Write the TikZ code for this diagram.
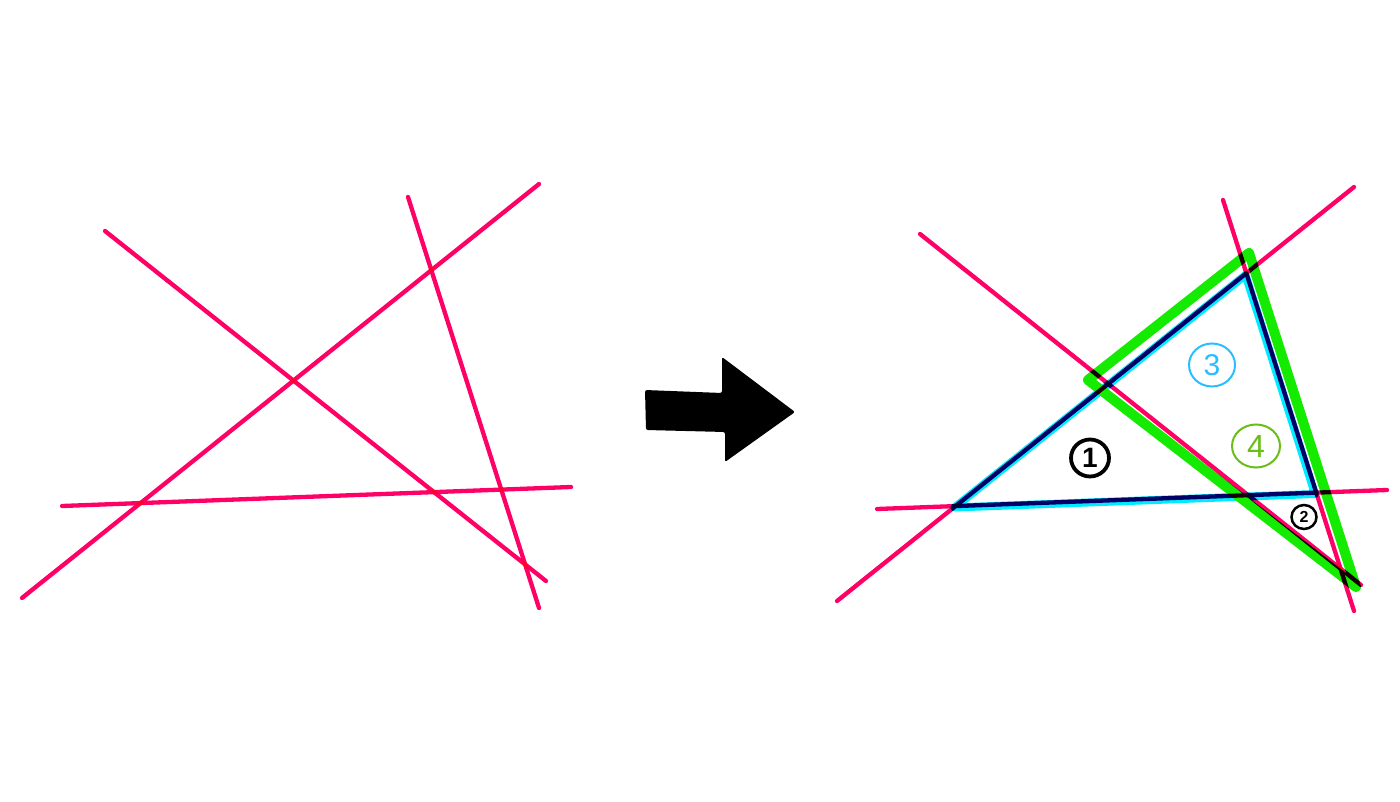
\documentclass[tikz,border=0pt]{standalone}
\usepackage{fontspec}
\setmainfont{Liberation Sans}
\usetikzlibrary{shapes.geometric}
\definecolor{pk}{RGB}{255,0,102}
\definecolor{cy}{RGB}{0,235,255}
\definecolor{gr}{RGB}{20,235,0}
\definecolor{cylab}{RGB}{40,190,255}
\definecolor{grlab}{RGB}{105,190,25}
\begin{document}
\begin{tikzpicture}[x=1pt,y=-1pt,
  pinkline/.style={draw=pk,line width=4.3pt,line cap=round,blend mode=multiply},
  cyantri/.style={draw=cy,line width=8pt,line join=round,line cap=round},
  greentri/.style={draw=gr,line width=10pt,line join=round,line cap=round},
  lab/.style={ellipse,inner sep=0pt,align=center}]
\useasboundingbox[fill=white] (0,0) rectangle (1400,802);
% left lines
\coordinate (a1) at (105,231); \coordinate (a2) at (546,581);
\coordinate (b1) at (22,598);  \coordinate (b2) at (539,184);
\coordinate (c1) at (408,197); \coordinate (c2) at (539,608);
\coordinate (d1) at (62,506);  \coordinate (d2) at (571,487);
\draw[pinkline] (a1) -- (a2);
\draw[pinkline] (b1) -- (b2);
\draw[pinkline] (c1) -- (c2);
\draw[pinkline] (d1) -- (d2);
% arrow
\fill[black,rounded corners=2pt] (645,390) -- (722,393) -- (722,357) -- (795,412) -- (725,462) -- (725,432) -- (646,430) -- cycle;
% right lines endpoints
\coordinate (p1) at (920,234);  \coordinate (p2) at (1361,585);
\coordinate (q1) at (837,601);  \coordinate (q2) at (1354,187);
\coordinate (r1) at (1223,200); \coordinate (r2) at (1354,611);
\coordinate (s1) at (877,509);  \coordinate (s2) at (1387,490);
% cyan triangle (lines 2,3,4), slightly shifted
\coordinate (t1) at (954.5,507.5);
\coordinate (t2) at (1245.5,275);
\coordinate (t3) at (1315,494);
\draw[cyantri] (t1) -- (t2) -- (t3) -- cycle;
% green triangle (lines 1,2,3), offset outward
\coordinate (g1) at (1088,380);
\coordinate (g2) at (1249,253);
\coordinate (g3) at (1356,587);
\draw[greentri] (g1) -- (g2) -- (g3) -- cycle;
% right pink lines
\draw[pinkline] (p1) -- (p2);
\draw[pinkline] (q1) -- (q2);
\draw[pinkline] (r1) -- (r2);
\draw[pinkline] (s1) -- (s2);
% labels
\node[lab,draw=black,line width=3.8pt,minimum width=38pt,minimum height=37pt,font=\bfseries\fontsize{28}{28}\selectfont] (n1) at (1090,458) {1};
\node[lab,draw=black,line width=2.5pt,minimum width=25pt,minimum height=24pt,font=\bfseries\fontsize{16}{16}\selectfont] (n2) at (1304,517) {2};
\node[lab,draw=cylab,text=cylab,line width=2pt,minimum width=46pt,minimum height=43pt,font=\fontsize{30}{30}\selectfont] (n3) at (1212,365) {3};
\node[lab,draw=grlab,text=grlab,line width=2pt,minimum width=48pt,minimum height=43pt,font=\fontsize{32}{32}\selectfont] (n4) at (1256,446) {4};
\end{tikzpicture}
\end{document}
